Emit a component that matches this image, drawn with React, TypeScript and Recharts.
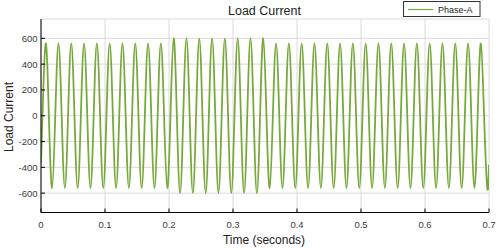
import React from 'react';
import { LineChart, Line, XAxis, YAxis, CartesianGrid } from 'recharts';

const xTicks = [0, 0.1, 0.2, 0.3, 0.4, 0.5, 0.6, 0.7];
const yTicks = [-600, -400, -200, 0, 200, 400, 600];

// Peak (positive) amplitude of each of the 35 cycles
const peakAmps = [
  560, 560, 560, 560, 560, 560, 560, 560, 560, 560,
  600, 600, 600, 600, 600, 600, 600, 600,
  560, 560, 560, 560, 560, 560, 560, 560, 560, 560,
  560, 560, 560, 560, 560, 560, 560,
];
// Trough (negative) amplitude of each cycle
const troughAmps = [
  -560, -560, -560, -560, -560, -560, -560, -560, -560, -560,
  -600, -600, -600, -600, -600, -600, -600,
  -560, -560, -560, -560, -560, -560, -560, -560, -560, -560,
  -560, -560, -560, -560, -560, -560, -560, -560,
];
const startValue = -370;
const endValue = -380;
const PERIOD = 0.02; // 50 Hz
const FIRST_ZERO = 0.0023;
const END_TIME = 0.7;

const data: { t: number; v: number }[] = [{ t: 0, v: startValue }];
peakAmps.forEach((p, k) => {
  const base = FIRST_ZERO + k * PERIOD;
  data.push({ t: +base.toFixed(5), v: 0 });
  data.push({ t: +(base + PERIOD / 4).toFixed(5), v: p });
  data.push({ t: +(base + PERIOD / 2).toFixed(5), v: 0 });
  data.push({ t: +(base + (3 * PERIOD) / 4).toFixed(5), v: troughAmps[k] });
});
data.push({ t: END_TIME, v: endValue });

const FONT = '"Liberation Sans", Arial, sans-serif';
const GREEN = '#78a93c';
const tickStyle = { fontSize: 9.5, fill: '#3a3a3a', fontFamily: FONT };

export default function App() {
  return (
    <div style={{ position: 'absolute', left: 0, top: 0, width: 497, height: 248, background: '#fff' }}>
      <LineChart width={497} height={248} data={data} margin={{ top: 19, right: 8, bottom: 0, left: 0 }}>
        <CartesianGrid stroke="#dadada" strokeWidth={1} />
        <XAxis
          dataKey="t"
          type="number"
          domain={[0, 0.7]}
          ticks={xTicks}
          allowDataOverflow
          height={35.5}
          axisLine={{ stroke: '#000' }}
          tickLine={{ stroke: '#000' }}
          tickSize={-4}
          tickMargin={12.5}
          tick={tickStyle}
          tickFormatter={(v: number) => String(v)}
          interval={0}
        />
        <XAxis
          xAxisId="top"
          orientation="top"
          dataKey="t"
          type="number"
          domain={[0, 0.7]}
          ticks={xTicks}
          allowDataOverflow
          height={0}
          axisLine={{ stroke: '#000' }}
          tickLine={{ stroke: '#000' }}
          tickSize={-4}
          tick={false}
          interval={0}
        />
        <YAxis
          type="number"
          domain={[-750, 750]}
          ticks={yTicks}
          allowDataOverflow
          width={41}
          axisLine={{ stroke: '#000' }}
          tickLine={{ stroke: '#000' }}
          tickSize={-4}
          tickMargin={7.5}
          tick={tickStyle}
          interval={0}
        />
        <YAxis
          yAxisId="right"
          orientation="right"
          type="number"
          domain={[-750, 750]}
          ticks={yTicks}
          allowDataOverflow
          width={0}
          axisLine={{ stroke: '#000' }}
          tickLine={{ stroke: '#000' }}
          tickSize={-4}
          tick={false}
          interval={0}
        />
        <Line
          dataKey="v"
          type="natural"
          stroke={GREEN}
          strokeWidth={1.8}
          dot={false}
          isAnimationActive={false}
        />
      </LineChart>
      <svg
        width={497}
        height={248}
        style={{ position: 'absolute', left: 0, top: 0, pointerEvents: 'none' }}
      >
        <text x={264.5} y={15} textAnchor="middle" fontFamily={FONT} fontSize={12.5} fill="#222">
          Load Current
        </text>
        <text x={264} y={244} textAnchor="middle" fontFamily={FONT} fontSize={12} fill="#222">
          Time (seconds)
        </text>
        <text
          x={0}
          y={0}
          transform="translate(13,117) rotate(-90)"
          textAnchor="middle"
          fontFamily={FONT}
          fontSize={12}
          fill="#222"
        >
          Load Current
        </text>
        <rect x={403.5} y={1.5} width={76.5} height={15} fill="#fff" stroke="#333" strokeWidth={1} />
        <line x1={408} y1={9.5} x2={433} y2={9.5} stroke={GREEN} strokeWidth={1.2} />
        <text x={438} y={13} fontFamily={FONT} fontSize={9} fill="#222">
          Phase-A
        </text>
      </svg>
    </div>
  );
}
